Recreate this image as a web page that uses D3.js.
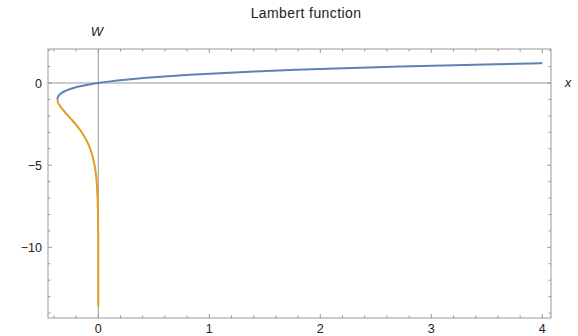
<!DOCTYPE html>
<html><head><meta charset="utf-8">
<script src="https://cdn.jsdelivr.net/npm/d3@7"></script>
<style>body{margin:0;background:#fff}svg{display:block}text{font-family:"Liberation Sans",Arial,sans-serif}</style>
</head><body>
<svg id="c" width="578" height="336"></svg>
<script>
// Principal branch W0: x values and W values
const w0X = [-0.36788,-0.36740,-0.36591,-0.35946,-0.34761,-0.32929,-0.30327,-0.26813,-0.22225,-0.16375,-0.09048,0,0.11052,0.24428,0.40496,0.59673,0.82436,1.09327,1.40963,1.78043,2.21364,2.71828,3.30459,3.98414,4.0];
const w0Y = [-1,-0.95,-0.9,-0.8,-0.7,-0.6,-0.5,-0.4,-0.3,-0.2,-0.1,0,0.1,0.2,0.3,0.4,0.5,0.6,0.7,0.8,0.9,1.0,1.1,1.2,1.2022];
// Lower branch W-1
const wm1X = [-0.36788,-0.36616,-0.36143,-0.35429,-0.34524,-0.33470,-0.30410,-0.27067,-0.23715,-0.20521,-0.17580,-0.14936,-0.10569,-0.07326,-0.05000,-0.03369,-0.02248,-0.01487,-0.00638,-0.00268,-0.00111,-0.000454,-0.0000737,-0.0000170];
const wm1Y = [-1,-1.1,-1.2,-1.3,-1.4,-1.5,-1.75,-2,-2.25,-2.5,-2.75,-3,-3.5,-4,-4.5,-5,-5.5,-6,-7,-8,-9,-10,-12,-13.6];
const xTicks = [0,1,2,3,4];
const yTicks = [0,-5,-10];
const title = "Lambert function";

const svg = d3.select("#c");
const L=48,R=551,T=49,B=318;
const x = d3.scaleLinear().domain([-0.453,4.078]).range([L,R]);
const y = d3.scaleLinear().domain([-14.3,2.07]).range([B,T]);
const frameCol="#999", tickCol="#999";

// axes through origin
svg.append("line").attr("x1",L).attr("x2",R).attr("y1",y(0)).attr("y2",y(0)).attr("stroke",frameCol).attr("stroke-width",1);
svg.append("line").attr("x1",x(0)).attr("x2",x(0)).attr("y1",T).attr("y2",B).attr("stroke",frameCol).attr("stroke-width",1);

// frame
svg.append("rect").attr("x",L).attr("y",T).attr("width",R-L).attr("height",B-T).attr("fill","none").attr("stroke",frameCol).attr("stroke-width",1);

// minor/major ticks
const xMinor = d3.range(-0.4,4.05,0.2).map(v=>+v.toFixed(1));
xMinor.forEach(v=>{
  const major = Math.abs(v-Math.round(v))<1e-6;
  const len = major?4:2.5;
  svg.append("line").attr("x1",x(v)).attr("x2",x(v)).attr("y1",B).attr("y2",B-len).attr("stroke",tickCol);
  svg.append("line").attr("x1",x(v)).attr("x2",x(v)).attr("y1",T).attr("y2",T+len).attr("stroke",tickCol);
});
const yMinor = d3.range(-14,3,1);
yMinor.forEach(v=>{
  const major = v%5===0;
  const len = major?4:2.5;
  svg.append("line").attr("x1",L).attr("x2",L+len).attr("y1",y(v)).attr("y2",y(v)).attr("stroke",tickCol);
  svg.append("line").attr("x1",R).attr("x2",R-len).attr("y1",y(v)).attr("y2",y(v)).attr("stroke",tickCol);
});

// tick labels
svg.selectAll(".xl").data(xTicks).enter().append("text")
  .attr("x",d=>x(d)).attr("y",333).attr("text-anchor","middle").attr("font-size",12.5).attr("fill","#222")
  .text(d=>d);
svg.selectAll(".yl").data(yTicks).enter().append("text")
  .attr("x",42).attr("y",d=>y(d)+4.5).attr("text-anchor","end").attr("font-size",12.5).attr("fill","#222")
  .text(d=>d<0?"\u2212"+(-d):d);

// curves
const line = d3.line().x(d=>x(d[0])).y(d=>y(d[1])).curve(d3.curveCatmullRom.alpha(0.5));
svg.append("path").datum(wm1X.map((v,i)=>[v,wm1Y[i]])).attr("d",line)
  .attr("fill","none").attr("stroke","#E19C24").attr("stroke-width",2);
svg.append("path").datum(w0X.map((v,i)=>[v,w0Y[i]])).attr("d",line)
  .attr("fill","none").attr("stroke","#5E81B5").attr("stroke-width",2);

// labels
svg.append("text").attr("x",97).attr("y",36).attr("text-anchor","middle").attr("font-size",13).attr("font-style","italic").attr("fill","#222").text("W");
svg.append("text").attr("x",568).attr("y",87).attr("text-anchor","middle").attr("font-size",13).attr("font-style","italic").attr("fill","#222").text("x");
svg.append("text").attr("x",306).attr("y",18).attr("text-anchor","middle").attr("font-size",14).attr("letter-spacing",0.4).attr("fill","#222").text(title);
</script>
</body></html>
